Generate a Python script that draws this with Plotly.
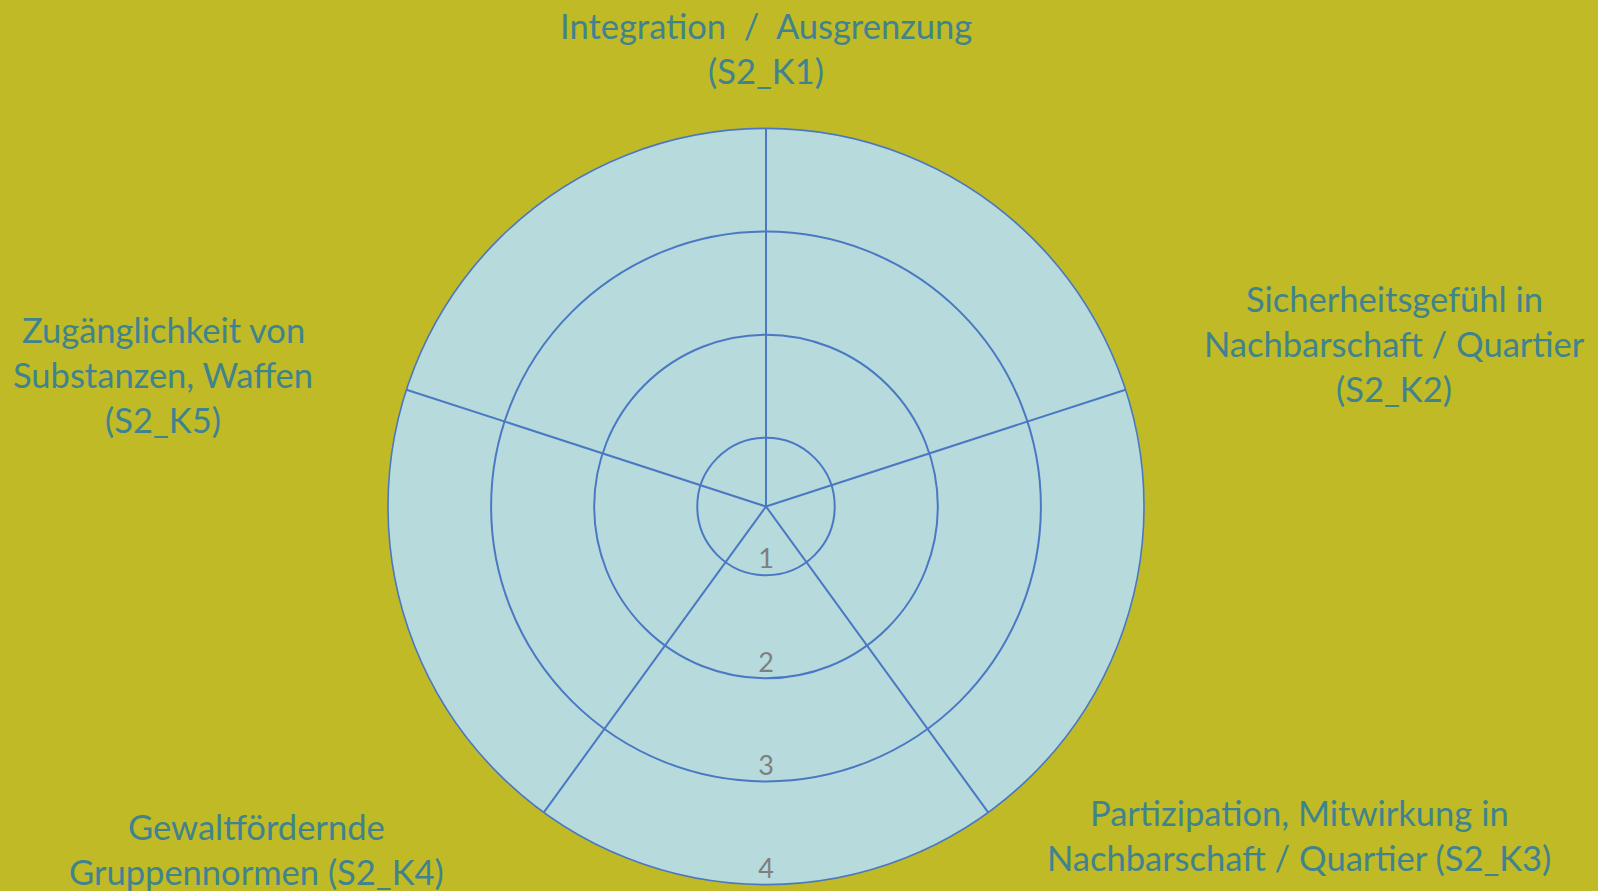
import plotly.graph_objects as go

# categories (clockwise from top) and their label lines
categories = ["S2_K1", "S2_K2", "S2_K3", "S2_K4", "S2_K5"]
label_lines = [
    ["Integration  /  Ausgrenzung", "(S2_K1)"],
    ["Sicherheitsgefühl in", "Nachbarschaft / Quartier", "(S2_K2)"],
    ["Partizipation, Mitwirkung in", "Nachbarschaft / Quartier (S2_K3)"],
    ["Gewaltfördernde", "Gruppennormen (S2_K4)"],
    ["Zugänglichkeit von", "Substanzen, Waffen", "(S2_K5)"],
]
# label anchor positions in pixels (centre x, first line y)
label_x = [766, 1394, 1299, 256, 163]
label_y = [26, 298, 812, 826, 329]
line_gap = 45

scale_values = [1, 2, 3, 4]
scale_labels = ["1", "2", "3", "4"]

W, H = 1598, 891
bg = "#bfba26"
fill = "#b7dadd"
blue = "#4a78c2"
teal = "#40838f"

spoke_angles = [i * 360 / len(categories) for i in range(len(categories))]

fig = go.Figure()

# radial scale labels placed along the bottom direction
fig.add_trace(go.Scatterpolar(
    r=scale_values,
    theta=[180] * len(scale_values),
    mode="text",
    text=scale_labels,
    textposition="top center",
    textfont=dict(family="Lato", size=27, color="#7f7f7f"),
    showlegend=False,
    hoverinfo="skip"))

fig.update_layout(
    width=W, height=H,
    paper_bgcolor=bg,
    plot_bgcolor=bg,
    margin=dict(l=0, r=0, t=0, b=0),
    polar=dict(
        domain=dict(x=[388 / W, 1144 / W], y=[6.5 / H, 762.5 / H]),
        bgcolor=fill,
        radialaxis=dict(
            range=[1 / 3, 4],
            tickvals=scale_values,
            showticklabels=False,
            ticks="",
            showline=False,
            gridcolor=blue,
            gridwidth=1.6),
        angularaxis=dict(
            rotation=90,
            direction="clockwise",
            tickvals=spoke_angles,
            showticklabels=False,
            ticks="",
            gridcolor=blue,
            gridwidth=1.6,
            linecolor=blue,
            linewidth=1.6)))

for lines, x, y in zip(label_lines, label_x, label_y):
    for j, line in enumerate(lines):
        fig.add_annotation(
            x=x / W, y=1 - (y + j * line_gap) / H,
            xref="paper", yref="paper",
            xanchor="center", yanchor="middle",
            text=line, showarrow=False,
            font=dict(family="Lato", size=34.5, color=teal))

fig.write_html("out.html", config={"displayModeBar": False},
               post_script="document.body.style.margin='0';")
